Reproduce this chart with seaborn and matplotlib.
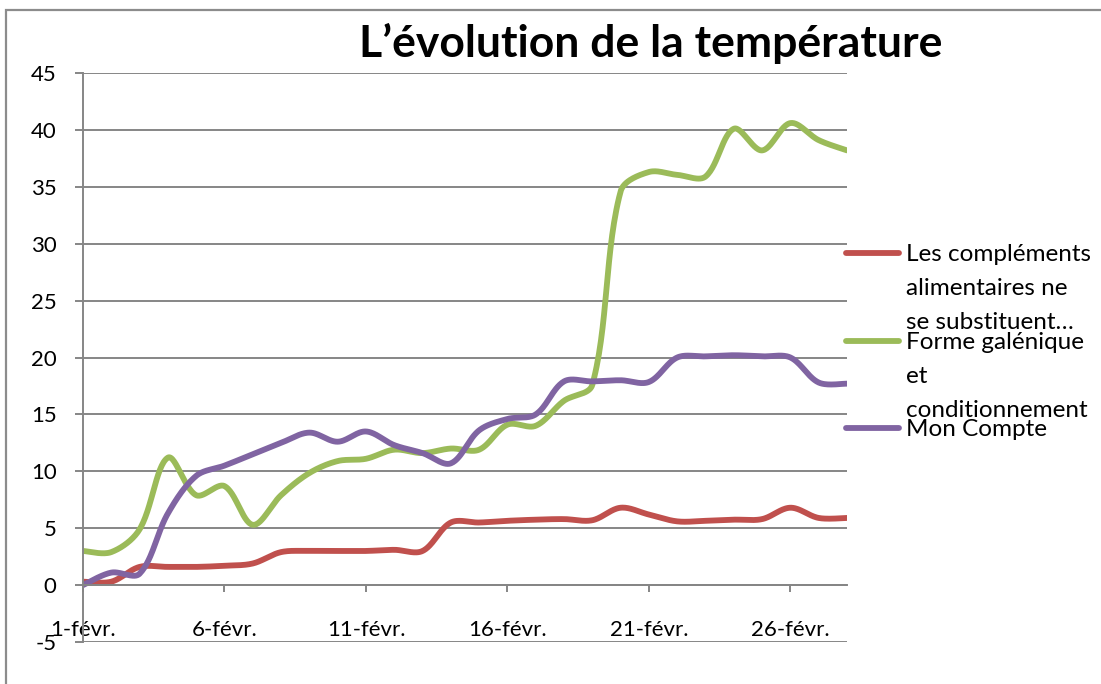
import numpy as np
import pandas as pd
import matplotlib
matplotlib.use("Agg")
import matplotlib.pyplot as plt
from matplotlib.lines import Line2D
from matplotlib.patches import Rectangle
import seaborn as sns

# Daily readings, 1 to 28 February
days = list(range(1, 29))
tick_days = [1, 6, 11, 16, 21, 26]
tick_labels = ["1-févr.", "6-févr.", "11-févr.", "16-févr.", "21-févr.", "26-févr."]

series_names = [
    "Les compléments\nalimentaires ne\nse substituent…",
    "Forme galénique\net\nconditionnement",
    "Mon Compte",
]
complements = [0.3, 0.3, 1.6, 1.6, 1.6, 1.7, 1.9, 2.9, 3.0, 3.0, 3.0, 3.1, 3.0, 5.5,
               5.5, 5.65, 5.75, 5.8, 5.7, 6.8, 6.2, 5.6, 5.65, 5.75, 5.8, 6.8, 5.9, 5.9]
forme = [3.0, 2.9, 4.9, 11.2, 7.9, 8.7, 5.3, 7.9, 9.85, 10.9, 11.1, 11.9, 11.6, 12.0,
         11.9, 14.1, 14.0, 16.2, 17.6, 34.6, 36.3, 36.05, 35.9, 40.1, 38.2, 40.6, 39.1, 38.2]
compte = [0.0, 1.1, 1.0, 6.3, 9.6, 10.5, 11.5, 12.5, 13.4, 12.6, 13.5, 12.3, 11.6, 10.7,
          13.6, 14.6, 15.0, 17.9, 17.9, 18.0, 17.85, 20.0, 20.1, 20.2, 20.1, 20.0, 17.8, 17.7]
colors = ["#C0504D", "#9BBB59", "#8064A2"]

GRID = "#868686"
FS = 16
FS_LEG = 17.5
LW = 4.2

# Axes box in figure pixels
W, H = 1101, 684
AX_L, AX_R, AX_T, AX_B = 83, 847, 73, 642
XMIN, XMAX, YMIN, YMAX = 1, 28, -5, 45
PX_X = (AX_R - AX_L) / (XMAX - XMIN)
PX_Y = (AX_B - AX_T) / (YMAX - YMIN)


def smooth_curve(x, y, steps=30):
    """Smoothed line through the points: cubic Bezier pieces whose tangents
    are scaled by the on-screen length of the neighbouring segments."""
    p = np.column_stack([np.asarray(x, float) * PX_X, np.asarray(y, float) * PX_Y])
    n = len(p)
    f = 1.0 / 6.0
    out = []
    for i in range(n - 1):
        p0 = p[i - 1] if i > 0 else p[i]
        p1, p2 = p[i], p[i + 1]
        p3 = p[i + 2] if i + 2 < n else p[i + 1]
        d01 = np.hypot(*(p1 - p0))
        d12 = np.hypot(*(p2 - p1))
        d23 = np.hypot(*(p3 - p2))
        s1 = 2 * d12 / (d01 + d12) if d01 > 0 else 1.0
        s2 = 2 * d12 / (d12 + d23) if d23 > 0 else 1.0
        c1 = p1 + (p2 - p0) * f * s1
        c2 = p2 - (p3 - p1) * f * s2
        t = np.linspace(0, 1, steps, endpoint=(i == n - 2))[:, None]
        seg = ((1 - t) ** 3) * p1 + 3 * ((1 - t) ** 2) * t * c1 + 3 * (1 - t) * t ** 2 * c2 + t ** 3 * p2
        out.append(seg)
    out = np.vstack(out)
    return out[:, 0] / PX_X, out[:, 1] / PX_Y


frames = []
for name, vals in zip(series_names, [complements, forme, compte]):
    sx, sy = smooth_curve(days, vals)
    frames.append(pd.DataFrame({"jour": sx, "valeur": sy, "serie": name}))
df = pd.concat(frames, ignore_index=True)

sns.set_style("white")
plt.rcParams["font.family"] = ["Lato", "DejaVu Sans"]
plt.rcParams["axes.unicode_minus"] = False
plt.rcParams["text.color"] = "black"

fig = plt.figure(figsize=(W / 100, H / 100), dpi=100)
ax = fig.add_axes([AX_L / W, (H - AX_B) / H, (AX_R - AX_L) / W, (AX_B - AX_T) / H])

sns.lineplot(data=df, x="jour", y="valeur", hue="serie", palette=dict(zip(series_names, colors)),
             hue_order=series_names, sort=False, estimator=None, linewidth=LW,
             legend=False, ax=ax)
for ln in ax.get_lines():
    ln.set_solid_capstyle("round")

ax.set_xlim(XMIN, XMAX)
ax.set_ylim(YMIN, YMAX)
ax.set_yticks(range(-5, 50, 5))
ax.set_xticks(tick_days)
ax.set_xticklabels(tick_labels)
ax.set_xlabel("")
ax.set_ylabel("")

ax.yaxis.grid(True, color=GRID, linewidth=1.4)
ax.xaxis.grid(False)
ax.set_axisbelow(True)

for side in ["top", "right"]:
    ax.spines[side].set_visible(False)
ax.spines["left"].set_color(GRID)
ax.spines["left"].set_linewidth(1.4)
ax.spines["bottom"].set_position(("data", 0))
ax.spines["bottom"].set_color(GRID)
ax.spines["bottom"].set_linewidth(1.4)

ax.tick_params(axis="y", left=True, length=6, width=1.4, color=GRID, pad=13,
               labelsize=FS, labelcolor="black")
ax.tick_params(axis="x", bottom=True, length=5, width=1.4, color=GRID, pad=20,
               labelsize=FS, labelcolor="black", direction="out")

# Legend: one block per series, the key sits beside the first line of its label
legend_first_line = [253, 341, 428]
for name, c, ycen in zip(series_names, colors, legend_first_line):
    lines = name.split("\n")
    hs = [Line2D([], [], color=c, linewidth=LW, solid_capstyle="round")]
    hs += [Line2D([], [], color="none") for _ in lines[1:]]
    fig.legend(hs, lines, loc="upper left",
               bbox_to_anchor=(846 / W, 1 - (ycen - 9) / H), frameon=False,
               fontsize=FS_LEG, handlelength=2.2, handletextpad=0.25,
               labelspacing=0.53, borderpad=0, borderaxespad=0)

fig.text(651 / W, 1 - 57 / H, "L’évolution de la température", ha="center",
         va="baseline", fontsize=32, fontweight="bold", color="black")

fig.add_artist(Rectangle((5.5 / W, -0.1), 1.2, 1.1 - 10 / H, transform=fig.transFigure,
                         fill=False, edgecolor="#8C8C8C", linewidth=1.6))

fig.savefig("out.png", dpi=100)
